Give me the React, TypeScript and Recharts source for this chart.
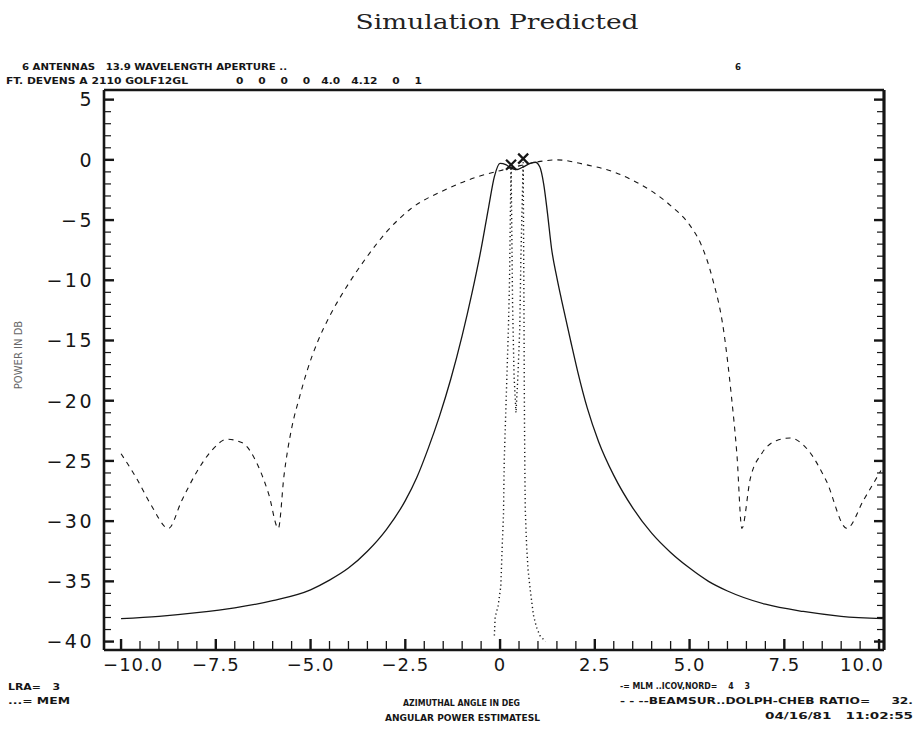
import { ComposedChart, Line, Scatter, XAxis, YAxis } from "recharts"

// MLM estimate (solid)
const mlmAngle = [-10.0, -9.0, -8.0, -7.0, -6.0, -5.0, -4.5, -4.0, -3.5, -3.0, -2.5, -2.2, -1.9, -1.6, -1.3, -1.0, -0.75, -0.5, -0.3, -0.15, 0.0, 0.15, 0.3, 0.45, 0.6, 0.8, 0.93, 1.05, 1.15, 1.25, 1.36, 1.5, 1.62, 1.86, 2.05, 2.3, 2.6, 3.0, 3.5, 4.0, 4.5, 5.0, 5.5, 6.0, 7.0, 8.0, 9.0, 10.1]
const mlmPower = [-38.1, -37.9, -37.6, -37.2, -36.6, -35.7, -34.9, -33.9, -32.5, -30.7, -28.3, -26.4, -24.0, -21.3, -18.2, -14.6, -11.2, -7.4, -3.9, -1.4, -0.3, -0.4, -0.7, -0.8, -0.6, -0.3, -0.2, -0.6, -2.0, -4.4, -7.4, -9.8, -11.6, -15.0, -17.6, -20.6, -23.4, -26.2, -28.9, -31.0, -32.6, -33.9, -35.0, -35.8, -36.9, -37.5, -37.9, -38.1]

// MEM estimate (dotted)
const memAngle = [-0.15, -0.13, -0.05, 0.02, 0.06, 0.09, 0.11, 0.14, 0.18, 0.22, 0.25, 0.27, 0.29, 0.31, 0.33, 0.37, 0.42, 0.47, 0.52, 0.55, 0.61, 0.62, 0.63, 0.638, 0.645, 0.655, 0.665, 0.7, 0.74, 0.8, 0.88, 0.96, 1.05, 1.2]
const memPower = [-39.5, -38.0, -37.0, -35.4, -31.8, -29.5, -25.0, -22.0, -18.0, -14.0, -10.0, -5.0, -0.4, -6.0, -12.0, -18.0, -21.0, -18.0, -14.0, -8.0, -0.2, -6.0, -12.0, -18.0, -22.0, -26.0, -29.0, -32.0, -34.1, -35.8, -37.8, -38.8, -39.5, -40.0]

// Beamsum, Dolph-Chebyshev (dashed)
const beamAngle = [-10.0, -9.6, -9.2, -8.75, -8.4, -8.0, -7.6, -7.2, -6.8, -6.4, -6.1, -5.85, -5.7, -5.5, -5.3, -5.1, -4.8, -4.5, -4.0, -3.5, -3.0, -2.37, -1.46, -0.59, 0.0, 0.5, 0.93, 1.5, 2.26, 3.0, 3.5, 4.0, 4.5, 5.0, 5.3, 5.6, 5.9, 6.1, 6.25, 6.38, 6.6, 6.9, 7.3, 7.65, 8.1, 8.6, 9.15, 9.6, 10.05]
const beamPower = [-24.4, -26.4, -28.7, -30.6, -28.3, -25.9, -24.1, -23.2, -23.5, -25.3, -27.8, -30.6, -26.2, -22.3, -19.8, -17.6, -15.0, -13.0, -10.3, -8.0, -6.0, -4.1, -2.5, -1.4, -0.9, -0.5, -0.2, 0.0, -0.4, -1.0, -1.7, -2.6, -3.8, -5.4, -7.0, -9.8, -14.2, -19.5, -24.5, -30.6, -26.5, -24.4, -23.3, -23.1, -24.0, -26.6, -30.6, -28.2, -25.8]

// peak markers
const peakAngle = [0.29, 0.61]
const peakPower = [-0.4, 0.1]

const xTicks = [-10, -9.5, -9, -8.5, -8, -7.5, -7, -6.5, -6, -5.5, -5, -4.5, -4, -3.5, -3, -2.5, -2, -1.5, -1, -0.5, 0, 0.5, 1, 1.5, 2, 2.5, 3, 3.5, 4, 4.5, 5, 5.5, 6, 6.5, 7, 7.5, 8, 8.5, 9, 9.5, 10]
const yTicks = [-40, -39, -38, -37, -36, -35, -34, -33, -32, -31, -30, -29, -28, -27, -26, -25, -24, -23, -22, -21, -20, -19, -18, -17, -16, -15, -14, -13, -12, -11, -10, -9, -8, -7, -6, -5, -4, -3, -2, -1, 0, 1, 2, 3, 4, 5]

const toPoints = (a: number[], p: number[]) => a.map((x, i) => ({ angle: x, power: p[i] }))
const mlmData = toPoints(mlmAngle, mlmPower)
const memData = toPoints(memAngle, memPower)
const beamData = toPoints(beamAngle, beamPower)
const peakData = toPoints(peakAngle, peakPower)

const INK = "#161616"
const AXIS_FONT = "'DejaVu Sans', sans-serif"
const PLOT_FONT = "'DejaVu Sans', sans-serif"
const X_DOMAIN = [-10.45, 10.13]
const Y_DOMAIN = [-40.7, 5.8]

const isMajorX = (v: number) => Math.abs(v / 2.5 - Math.round(v / 2.5)) < 1e-6
const isMajorY = (v: number) => v % 5 === 0

const fmtX = (v: number) => (v === 0 ? "0" : (v < 0 ? "\u2212" : "") + Math.abs(v).toFixed(1))
const fmtY = (v: number) => (v < 0 ? "\u2212" + Math.abs(v) : String(v))

const BottomTick = (props: any) => {
  const { x, y, payload } = props
  const v = payload.value
  const major = isMajorX(v)
  // end labels are pulled inside the frame, as on the plotter
  const anchor = v <= -10 ? "start" : v >= 10 ? "end" : "middle"
  const tx = v <= -10 ? x - 18 : v >= 10 ? x + 5 : x
  return (
    <g>
      <line x1={x} x2={x} y1={y} y2={y - (major ? 11 : 9)} stroke={INK} strokeWidth={major ? 2.4 : 1.3} />
      {major && (
        <text x={tx} y={y + 15} dy="0.36em" textAnchor={anchor} fontSize={18} letterSpacing={1} fontFamily={AXIS_FONT} fill={INK}>
          {fmtX(v)}
        </text>
      )}
    </g>
  )
}

const TopTick = (props: any) => {
  const { x, y, payload } = props
  const major = isMajorX(payload.value)
  return <line x1={x} x2={x} y1={y} y2={y + (major ? 11 : 9)} stroke={INK} strokeWidth={major ? 2.4 : 1.3} />
}

const LeftTick = (props: any) => {
  const { x, y, payload } = props
  const v = payload.value
  const major = isMajorY(v)
  return (
    <g>
      <line x1={x} x2={x + (major ? 10 : 7)} y1={y} y2={y} stroke={INK} strokeWidth={major ? 2.4 : 1.2} />
      {major && (
        <text x={x - 10} y={y} dy="0.36em" textAnchor="end" fontSize={19} letterSpacing={2.5} fontFamily={AXIS_FONT} fill={INK}>
          {fmtY(v)}
        </text>
      )}
    </g>
  )
}

const RightTick = (props: any) => {
  const { x, y, payload } = props
  const major = isMajorY(payload.value)
  return <line x1={x} x2={x - (major ? 10 : 7)} y1={y} y2={y} stroke={INK} strokeWidth={major ? 2.4 : 1.2} />
}

const CrossMark = (props: any) => {
  const { cx, cy } = props
  const s = 5
  return (
    <path
      d={`M${cx - s},${cy - s}L${cx + s},${cy + s}M${cx + s},${cy - s}L${cx - s},${cy + s}`}
      stroke={INK}
      strokeWidth={2.2}
      fill="none"
    />
  )
}

const Note = ({ x, y, w, children }: any) => (
  <text
    x={x}
    y={y}
    textLength={w}
    lengthAdjust="spacingAndGlyphs"
    fontSize={9}
    fontWeight="bold"
    fontFamily={PLOT_FONT}
    fill={INK}
    style={{ whiteSpace: "pre" }}
  >
    {children}
  </text>
)

export default function App() {
  return (
    <div style={{ position: "absolute", left: 0, top: 0, width: 924, height: 750, background: "#fff" }}>
      <ComposedChart width={924} height={750} margin={{ top: 80, right: 30, bottom: 70, left: 44 }}>
        <XAxis
          xAxisId="bottom"
          dataKey="angle"
          type="number"
          domain={X_DOMAIN}
          ticks={xTicks}
          interval={0}
          allowDataOverflow
          tickSize={0}
          tickMargin={0}
          tickLine={false}
          axisLine={{ stroke: INK, strokeWidth: 2.6 }}
          tick={(p: any) => <BottomTick {...p} />}
          height={30}
        />
        <XAxis
          xAxisId="top"
          orientation="top"
          type="number"
          domain={X_DOMAIN}
          ticks={xTicks}
          interval={0}
          allowDataOverflow
          tickSize={0}
          tickMargin={0}
          tickLine={false}
          axisLine={{ stroke: INK, strokeWidth: 2.6 }}
          tick={(p: any) => <TopTick {...p} />}
          height={10}
        />
        <YAxis
          yAxisId="left"
          dataKey="power"
          type="number"
          domain={Y_DOMAIN}
          ticks={yTicks}
          interval={0}
          allowDataOverflow
          tickSize={0}
          tickMargin={0}
          tickLine={false}
          axisLine={{ stroke: INK, strokeWidth: 2.6 }}
          tick={(p: any) => <LeftTick {...p} />}
          width={60}
        />
        <YAxis
          yAxisId="right"
          orientation="right"
          type="number"
          domain={Y_DOMAIN}
          ticks={yTicks}
          interval={0}
          allowDataOverflow
          tickSize={0}
          tickMargin={0}
          tickLine={false}
          axisLine={{ stroke: INK, strokeWidth: 3.2 }}
          tick={(p: any) => <RightTick {...p} />}
          width={10}
        />
        <Line
          xAxisId="bottom"
          yAxisId="left"
          data={beamData}
          dataKey="power"
          type="monotone"
          stroke={INK}
          strokeWidth={1.1}
          strokeDasharray="5 5"
          dot={false}
          activeDot={false}
          isAnimationActive={false}
        />
        <Line
          xAxisId="bottom"
          yAxisId="left"
          data={mlmData}
          dataKey="power"
          type="monotone"
          stroke={INK}
          strokeWidth={1.3}
          dot={false}
          activeDot={false}
          isAnimationActive={false}
        />
        <Line
          xAxisId="bottom"
          yAxisId="left"
          data={memData}
          dataKey="power"
          type="linear"
          stroke={INK}
          strokeWidth={1.4}
          strokeDasharray="1.2 3"
          dot={false}
          activeDot={false}
          isAnimationActive={false}
        />
        <Scatter
          xAxisId="bottom"
          yAxisId="left"
          data={peakData}
          dataKey="power"
          shape={(p: any) => <CrossMark {...p} />}
          isAnimationActive={false}
        />
      </ComposedChart>

      <svg width={924} height={750} style={{ position: "absolute", left: 0, top: 0, pointerEvents: "none" }}>
        <text
          x={497}
          y={29}
          textAnchor="middle"
          textLength={283}
          lengthAdjust="spacingAndGlyphs"
          fontSize={20}
          fontFamily="'DejaVu Serif', serif"
          fill="#222"
        >
          Simulation Predicted
        </text>

        <Note x={22} y={70} w={265}>6 ANTENNAS   13.9 WAVELENGTH APERTURE ..</Note>
        <Note x={735} y={70} w={6}>6</Note>
        <Note x={6} y={84} w={182}>FT. DEVENS A 2110 GOLF12GL</Note>
        <Note x={236} y={84} w={186}>0    0    0    0   4.0   4.12    0    1</Note>

        <text
          transform="translate(22 355) rotate(-90)"
          textAnchor="middle"
          fontSize={10}
          fontFamily={PLOT_FONT}
          fill="#666"
        >
          POWER IN DB
        </text>

        <Note x={8} y={690} w={52}>LRA=   3</Note>
        <Note x={8} y={704} w={62}>...= MEM</Note>

        <Note x={403} y={706} w={117}>AZIMUTHAL ANGLE IN DEG</Note>
        <Note x={385} y={721} w={155}>ANGULAR POWER ESTIMATESL</Note>

        <Note x={620} y={689} w={130}>-= MLM ..ICOV,NORD=    4    3</Note>
        <Note x={620} y={704} w={293}>- - --BEAMSUR..DOLPH-CHEB RATIO=     32.</Note>
        <Note x={765} y={719} w={148}>04/16/81   11:02:55</Note>
      </svg>
    </div>
  )
}
